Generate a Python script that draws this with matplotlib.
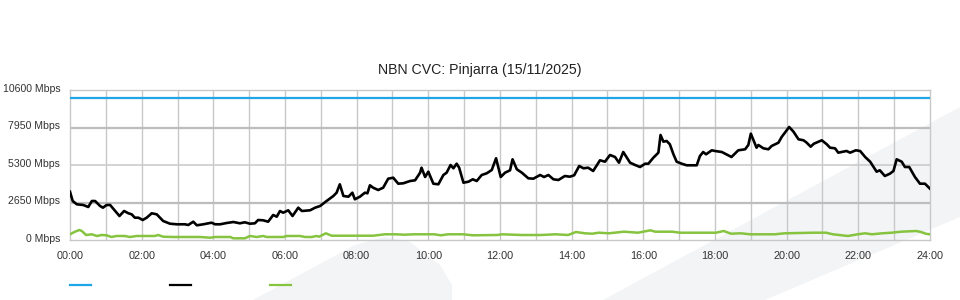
import matplotlib
matplotlib.use("Agg")
import matplotlib.pyplot as plt
from matplotlib.patches import Polygon
from matplotlib.lines import Line2D
from matplotlib.transforms import ScaledTranslation

title = "NBN CVC: Pinjarra (15/11/2025)"
y_ticks = [0, 2650, 5300, 7950, 10600]
y_tick_labels = ["0 Mbps", "2650 Mbps", "5300 Mbps", "7950 Mbps", "10600 Mbps"]
x_ticks = list(range(0, 25, 2))
x_tick_labels = ["%02d:00" % h for h in x_ticks]

capacity_hours = [0, 24]
capacity_mbps = [10000, 10000]

down_hours = [0.00, 0.075, 0.19, 0.37, 0.51, 0.61, 0.70, 0.84, 0.92, 1.02, 1.12, 1.26, 1.38, 1.51,
              1.63, 1.72, 1.81, 1.91, 2.03, 2.14, 2.28, 2.42, 2.60, 2.79, 2.98, 3.21, 3.30, 3.44,
              3.54, 3.72, 3.95, 4.05, 4.19, 4.37, 4.56, 4.74, 4.88, 5.02, 5.16, 5.25, 5.39, 5.53,
              5.67, 5.77, 5.86, 5.95, 6.09, 6.21, 6.37, 6.47, 6.70, 6.84, 6.98, 7.16, 7.35, 7.44,
              7.53, 7.63, 7.77, 7.88, 7.95, 8.09, 8.23, 8.30, 8.37, 8.46, 8.60, 8.74, 8.88, 9.02,
              9.16, 9.30, 9.49, 9.63, 9.77, 9.81, 9.91, 10.00, 10.14, 10.28, 10.42, 10.51, 10.62,
              10.70, 10.79, 10.86, 10.98, 11.12, 11.24, 11.35, 11.49, 11.63, 11.77, 11.89, 12.02,
              12.14, 12.28, 12.35, 12.47, 12.61, 12.79, 12.93, 13.12, 13.23, 13.35, 13.49, 13.63,
              13.81, 13.95, 14.07, 14.21, 14.33, 14.46, 14.60, 14.79, 14.93, 15.07, 15.21, 15.32,
              15.44, 15.63, 15.77, 15.91, 16.05, 16.14, 16.28, 16.42, 16.48, 16.56, 16.65, 16.74,
              16.84, 16.93, 17.07, 17.21, 17.49, 17.58, 17.67, 17.75, 17.91, 18.00, 18.19, 18.37,
              18.46, 18.65, 18.84, 18.93, 19.00, 19.16, 19.21, 19.35, 19.49, 19.58, 19.77, 19.86,
              20.07, 20.19, 20.33, 20.47, 20.56, 20.67, 20.76, 20.98, 21.12, 21.21, 21.35, 21.44,
              21.67, 21.77, 21.93, 22.05, 22.19, 22.33, 22.51, 22.60, 22.74, 22.88, 22.98, 23.07,
              23.21, 23.30, 23.42, 23.58, 23.72, 23.86, 24.00]
down_mbps = [3413, 2756, 2523, 2473, 2332, 2756, 2756, 2403, 2283, 2473, 2473, 2049, 1696, 2049,
             1887, 1816, 1576, 1576, 1413, 1576, 1887, 1816, 1343, 1152, 1110, 1110, 1060, 1293,
             1039, 1110, 1223, 1110, 1110, 1201, 1272, 1180, 1251, 1152, 1180, 1413, 1392, 1293,
             1767, 1647, 2049, 1929, 2099, 1696, 2283, 2049, 2099, 2283, 2403, 2756, 3110, 3343,
             3936, 3110, 3060, 3343, 2876, 3060, 3343, 3300, 3866, 3696, 3534, 3696, 4332, 4403,
             3979, 4007, 4169, 4219, 4756, 5109, 4452, 4827, 3979, 3936, 4594, 4756, 5300,
             5067, 5392, 5109, 4049, 4120, 4290, 4169, 4594, 4714, 4947, 5774, 4452,
             4756, 4926, 5703, 4996, 4756, 4360, 4332, 4594, 4452, 4594, 4290, 4240,
             4523, 4473, 4572, 5230, 5067, 5109, 4876, 5632, 5533, 6007, 5866, 5463,
             6219, 5463, 5300, 5159, 5392, 5392, 5816, 6170, 7420, 6947, 6996, 6763,
             6056, 5533, 5392, 5279, 5279, 5936, 6219, 6056, 6339, 6290, 6219, 5986,
             5866, 6339, 6410, 6714, 7512, 6523, 6714, 6480, 6410, 6643, 6876, 7279,
             7986, 7654, 7116, 7046, 6876, 6593, 6805, 7046, 6763, 6523, 6480, 6170,
             6290, 6170, 6339, 6290, 5866, 5533, 4827, 4926, 4523, 4685, 4876, 5703,
             5533, 5159, 5159, 4452, 3979, 3979, 3625]

up_hours = [0.00, 0.14, 0.26, 0.33, 0.45, 0.61, 0.75, 0.88, 1.02, 1.16, 1.30, 1.53, 1.67, 1.86,
            2.14, 2.37, 2.46, 2.60, 2.88, 3.63, 3.91, 4.05, 4.47, 4.56, 4.88, 5.02, 5.21, 5.39,
            5.49, 5.95, 6.05, 6.42, 6.56, 6.75, 6.88, 6.95, 7.14, 7.30, 7.84, 8.46, 8.79, 9.07,
            9.34, 9.60, 10.16, 10.35, 10.55, 10.97, 11.25, 11.92, 12.06, 12.60, 13.14, 13.55,
            13.90, 14.12, 14.37, 14.57, 14.76, 15.04, 15.46, 15.85, 16.20, 16.33, 16.81, 17.02,
            17.69, 18.03, 18.24, 18.45, 18.72, 18.98, 19.67, 19.94, 20.75, 21.10, 21.29, 21.71,
            21.98, 22.19, 22.38, 22.66, 22.93, 23.20, 23.61, 23.75, 23.88, 24.00]
up_mbps = [403, 587, 707, 636, 353, 403, 283, 353, 332, 212, 283, 283, 212, 283,
           283, 283, 353, 233, 212, 212, 163, 212, 212, 120, 120, 283, 212, 283,
           212, 212, 283, 283, 212, 212, 283, 233, 473, 304, 304, 304, 403, 403,
           375, 403, 403, 332, 403, 403, 332, 353, 403, 353, 353, 403,
           353, 565, 473, 445, 516, 473, 587, 516, 685, 587, 587, 516,
           516, 516, 636, 445, 473, 403, 403, 473, 516, 516, 403, 283,
           403, 473, 403, 473, 516, 587, 636, 565, 445, 403]

W, H = 960, 300
fig = plt.figure(figsize=(9.6, 3.0), dpi=100)
fig.patch.set_facecolor("white")
plt.rcParams["font.family"] = ["Liberation Sans", "DejaVu Sans"]

def px(pts):
    return [(x / W, 1 - y / H) for x, y in pts]

shade = "#f3f4f6"
fig.add_artist(Polygon(px([(253, 300), (355, 245), (385, 237), (410, 242), (440, 265),
                           (452, 285), (452, 300)]), closed=True, facecolor=shade,
                       edgecolor="none", transform=fig.transFigure, zorder=0))
fig.add_artist(Polygon(px([(603, 300), (960, 107), (960, 217), (765, 300)]), closed=True,
                       facecolor=shade, edgecolor="none", transform=fig.transFigure, zorder=0))

ax = fig.add_axes([70 / W, 1 - 240 / H, 860 / W, 150 / H])
ax.patch.set_alpha(0)
ax.set_zorder(1)
ax.set_xlim(0, 24)
ax.set_ylim(0, 10600)

for h in range(1, 24):
    ax.axvline(h, color="#c8c8c8", lw=1.0, zorder=1)
for v in [2650, 7950]:
    ax.axhline(v, color="#bdbdbd", lw=1.6, zorder=1)
ax.axhline(5300, color="#c8c8c8", lw=1.1, zorder=1)

for s in ax.spines.values():
    s.set_color("#c8c8c8")
    s.set_linewidth(1.0)

l1, = ax.plot(capacity_hours, capacity_mbps, color="#1ea6e8", lw=1.6, zorder=3)
l2, = ax.plot(down_hours, down_mbps, color="#000000", lw=1.9, zorder=4)
l3, = ax.plot(up_hours, up_mbps, color="#86c440", lw=1.8, zorder=3)

ax.set_yticks(y_ticks)
ax.set_yticklabels(y_tick_labels)
ax.set_xticks(x_ticks)
ax.set_xticklabels(x_tick_labels)
ax.tick_params(length=0, labelsize=7.6, colors="#333333", pad=7)
ax.tick_params(axis="x", labelsize=7.8, pad=8)
shift = ScaledTranslation(0, 1.5 / 72, fig.dpi_scale_trans)
for lbl in ax.get_yticklabels():
    lbl.set_transform(lbl.get_transform() + shift)

fig.text(480 / W, 1 - 70 / H, title, ha="center", va="center", fontsize=10.2, color="#222222")

for i, ln in enumerate([l1, l2, l3]):
    x0 = 70 + 100 * i
    fig.add_artist(Line2D([x0 / W, (x0 + 21) / W], [1 - 285 / H, 1 - 285 / H],
                          color=ln.get_color(), lw=1.6, transform=fig.transFigure))

fig.savefig("out.png", dpi=100, facecolor="white")
